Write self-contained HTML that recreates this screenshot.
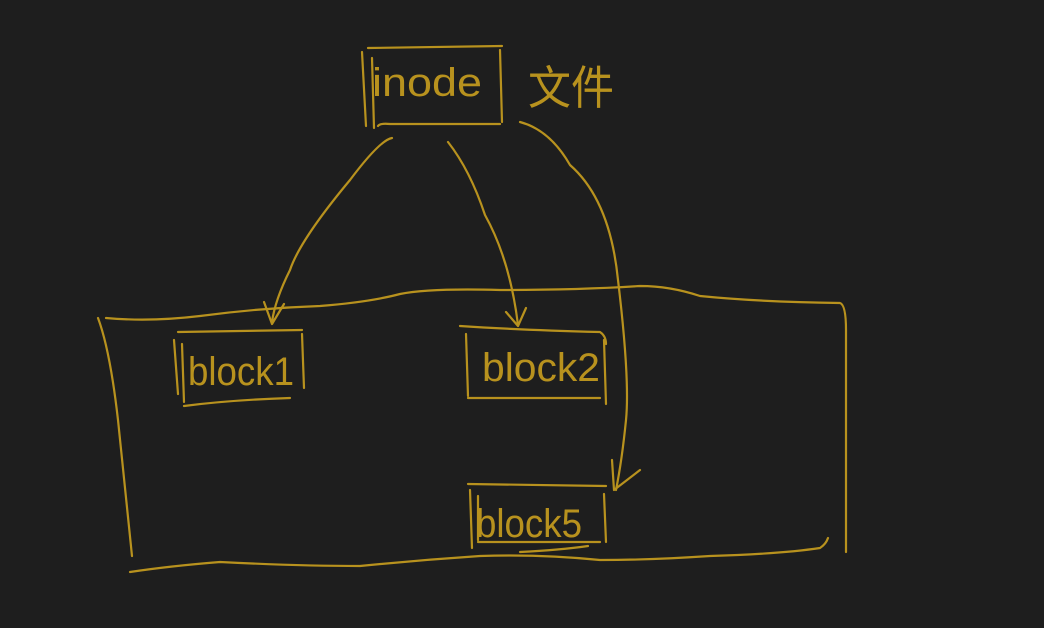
<!DOCTYPE html>
<html><head><meta charset="utf-8"><style>
html,body{margin:0;padding:0;background:#1e1e1e;width:1044px;height:628px;overflow:hidden}
svg{display:block}
text{font-family:"Liberation Sans","Noto Sans CJK SC",sans-serif;fill:#b8921e}
</style></head><body>
<svg width="1044" height="628" viewBox="0 0 1044 628" xmlns="http://www.w3.org/2000/svg">
<rect width="1044" height="628" fill="#1e1e1e"/>
<g fill="none" stroke="#b8921e" stroke-width="2.2" stroke-linecap="round" stroke-linejoin="round">
<!-- inode box -->
<path d="M368 48 L502 46"/>
<path d="M362 52 L366 126"/>
<path d="M372 58 L374 128"/>
<path d="M500 50 L502 122"/>
<path d="M378 126 Q380 123 390 124 L500 124"/>
<!-- arrows from inode -->
<path d="M392 138 Q380 140 350 180 Q300 240 290 270 Q275 300 272 322"/>
<path d="M264 302 L272 324 L284 304"/>
<path d="M448 142 Q470 170 485 215 Q510 260 518 325"/>
<path d="M506 312 L518 326 L526 308"/>
<path d="M520 122 Q550 130 570 165 Q610 200 618 280 Q630 380 626 420 Q622 460 616 490"/>
<path d="M612 460 L614 490 L640 470"/>
<!-- big container -->
<path d="M106 318 Q150 322 200 316 Q260 308 320 306 Q370 302 400 294 Q430 288 500 290 Q580 290 640 286 Q670 286 700 296 Q760 302 840 303 Q846 305 846 330 L846 552"/>
<path d="M98 318 Q110 350 118 420 Q126 500 132 556"/>
<path d="M130 572 Q170 566 220 562 Q300 566 360 566 Q420 560 480 556 Q540 554 600 560 Q650 560 710 556 Q780 554 820 548 Q826 544 828 538"/>
<!-- block1 -->
<path d="M178 332 L302 330"/>
<path d="M174 340 L178 394"/>
<path d="M182 344 L184 402"/>
<path d="M302 334 L304 388"/>
<path d="M184 406 Q230 400 290 398"/>
<!-- block2 -->
<path d="M460 326 Q520 330 600 332 Q606 336 606 344"/>
<path d="M466 334 L468 396"/>
<path d="M604 340 L606 404"/>
<path d="M468 398 L600 398"/>
<!-- block5 -->
<path d="M468 484 L606 486"/>
<path d="M470 490 L472 548"/>
<path d="M478 496 L478 540"/>
<path d="M604 494 L606 542"/>
<path d="M478 542 L600 542"/>
<path d="M520 552 Q560 550 588 546"/>
</g>
<text x="372" y="96" font-size="40" textLength="110" lengthAdjust="spacingAndGlyphs">inode</text>
<text x="528" y="104" font-size="46" textLength="86" lengthAdjust="spacingAndGlyphs">文件</text>
<text x="188" y="385" font-size="40" textLength="106" lengthAdjust="spacingAndGlyphs">block1</text>
<text x="482" y="381" font-size="40" textLength="118" lengthAdjust="spacingAndGlyphs">block2</text>
<text x="476" y="537" font-size="40" textLength="106" lengthAdjust="spacingAndGlyphs">block5</text>
</svg>
</body></html>
